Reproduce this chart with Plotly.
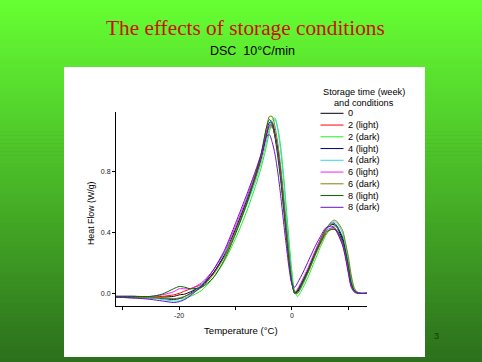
import plotly.graph_objects as go

W, H = 482, 362

# ---------------- data ----------------
temperature = [-31.2, -28, -25, -23, -21, -20, -19, -18, -16, -14, -12, -10, -8, -6.5, -5.5,
               -4.5, -4, -3.5, -3, -2.5, -2, -1.5, -1, -0.5, 0, 0.5, 1, 2, 3, 4, 5, 6, 7, 7.5,
               8, 9, 9.5, 10, 10.5, 11, 11.5, 12, 13.3]

series_names = ["0", "2 (light)", "2 (dark)", "4 (light)", "4 (dark)",
                "6 (light)", "6 (dark)", "8 (light)", "8 (dark)"]
series_colors = ["#000000", "#ff0000", "#22ee22", "#000080", "#33dddd",
                 "#ee22ee", "#808000", "#006600", "#6a10d0"]

hf_0 = [-0.02, -0.02, -0.025, -0.025, -0.02, -0.01, -0.005, 0.01, 0.05, 0.13, 0.25, 0.42, 0.61, 0.77, 0.89,
        1.05, 1.10, 1.10, 1.03, 0.92, 0.77, 0.59, 0.40, 0.22, 0.07, 0.0, 0.02, 0.09, 0.17, 0.26, 0.35, 0.42, 0.45, 0.45,
        0.43, 0.35, 0.27, 0.17, 0.06, 0.02, 0.005, 0.0, 0.0]
hf_2_light = [-0.025, -0.025, -0.025, -0.02, -0.01, 0.0, 0.015, 0.03, 0.06, 0.13, 0.24, 0.40, 0.59, 0.75, 0.87,
              1.03, 1.09, 1.09, 1.03, 0.93, 0.79, 0.61, 0.42, 0.24, 0.08, 0.01, 0.01, 0.07, 0.15, 0.24, 0.32, 0.39, 0.42, 0.42,
              0.40, 0.32, 0.24, 0.14, 0.05, 0.015, 0.005, 0.0, 0.0]
hf_2_dark = [-0.02, -0.02, -0.025, -0.03, -0.035, -0.035, -0.03, -0.02, 0.02, 0.10, 0.21, 0.36, 0.54, 0.70, 0.82,
             0.97, 1.06, 1.12, 1.14, 1.08, 0.96, 0.78, 0.56, 0.34, 0.14, 0.01, -0.02, 0.04, 0.12, 0.21, 0.30, 0.38, 0.43, 0.44,
             0.43, 0.37, 0.30, 0.21, 0.10, 0.03, 0.01, 0.0, 0.0]
hf_4_light = [-0.025, -0.03, -0.03, -0.035, -0.04, -0.035, -0.02, 0.0, 0.05, 0.13, 0.25, 0.42, 0.61, 0.77, 0.89,
              1.05, 1.12, 1.12, 1.05, 0.94, 0.80, 0.62, 0.43, 0.24, 0.08, 0.0, 0.01, 0.08, 0.16, 0.25, 0.34, 0.42, 0.46, 0.46,
              0.44, 0.36, 0.28, 0.18, 0.07, 0.02, 0.005, 0.0, 0.0]
hf_4_dark = [-0.02, -0.025, -0.03, -0.04, -0.05, -0.05, -0.035, -0.01, 0.06, 0.15, 0.26, 0.40, 0.58, 0.73, 0.85,
             1.00, 1.08, 1.14, 1.15, 1.07, 0.93, 0.74, 0.52, 0.30, 0.11, 0.0, 0.0, 0.06, 0.15, 0.24, 0.33, 0.41, 0.46, 0.47,
             0.46, 0.39, 0.31, 0.21, 0.09, 0.03, 0.01, 0.0, 0.0]
hf_6_light = [-0.02, -0.02, -0.02, -0.01, 0.01, 0.03, 0.03, 0.03, 0.07, 0.15, 0.27, 0.44, 0.63, 0.79, 0.90,
              1.06, 1.11, 1.10, 1.03, 0.91, 0.76, 0.57, 0.38, 0.20, 0.06, 0.01, 0.03, 0.10, 0.18, 0.27, 0.35, 0.41, 0.43, 0.43,
              0.41, 0.33, 0.25, 0.15, 0.05, 0.015, 0.005, 0.0, 0.0]
hf_6_dark = [-0.025, -0.025, -0.03, -0.03, -0.035, -0.03, -0.02, -0.005, 0.04, 0.12, 0.24, 0.41, 0.60, 0.77, 0.90,
             1.09, 1.16, 1.16, 1.09, 0.98, 0.83, 0.64, 0.44, 0.25, 0.08, 0.0, 0.0, 0.07, 0.15, 0.24, 0.34, 0.42, 0.47, 0.48,
             0.47, 0.41, 0.33, 0.24, 0.12, 0.04, 0.01, 0.0, 0.0]
hf_8_light = [-0.02, -0.02, -0.02, -0.005, 0.03, 0.045, 0.04, 0.03, 0.04, 0.10, 0.22, 0.39, 0.59, 0.77, 0.91,
              1.09, 1.14, 1.11, 1.02, 0.89, 0.74, 0.56, 0.37, 0.20, 0.06, 0.0, 0.02, 0.08, 0.16, 0.25, 0.33, 0.40, 0.42, 0.42,
              0.41, 0.34, 0.27, 0.18, 0.07, 0.02, 0.005, 0.0, 0.0]
hf_8_dark = [-0.025, -0.03, -0.04, -0.05, -0.06, -0.055, -0.04, -0.015, 0.05, 0.15, 0.28, 0.46, 0.65, 0.80, 0.91,
             1.03, 1.04, 0.99, 0.91, 0.79, 0.64, 0.47, 0.31, 0.16, 0.06, 0.04, 0.07, 0.14, 0.22, 0.30, 0.37, 0.43, 0.44, 0.43,
             0.40, 0.31, 0.23, 0.13, 0.04, 0.01, 0.0, 0.0, 0.0]

series_values = [hf_0, hf_2_light, hf_2_dark, hf_4_light, hf_4_dark,
                 hf_6_light, hf_6_dark, hf_8_light, hf_8_dark]

x_tickvals = [-30, -20, -10, 0, 10]
x_ticktext = ["", "-20", "", "0", ""]
y_tickvals = [0.0, 0.4, 0.8]
y_ticktext = ["0.0", "0.4", "0.8"]

title_text = "The effects of storage conditions"
subtitle_text = "DSC  10°C/min"
legend_title = ["Storage time (week)", "and conditions"]
page_number = "3"

# ---------------- helpers ----------------
def px(x):
    return x / W

def py(y):
    return 1 - y / H

SANS = "Liberation Sans, Arial, sans-serif"

fig = go.Figure()
for name, color, vals in zip(series_names, series_colors, series_values):
    fig.add_trace(go.Scatter(x=temperature, y=vals, mode="lines", name=name,
                             line=dict(color=color, width=1, shape="spline", smoothing=0.7),
                             showlegend=False, hoverinfo="skip"))

shapes = []
# green vertical gradient background
top = (102, 255, 51)
bot = (44, 112, 28)
nb = 91
for i in range(nb):
    t = i / (nb - 1)
    c = tuple(int(round(top[k] + (bot[k] - top[k]) * t)) for k in range(3))
    y0 = i * H / nb
    y1 = (i + 1) * H / nb + 0.6
    shapes.append(dict(type="rect", xref="paper", yref="paper", x0=0, x1=1,
                       y0=py(min(y1, H)), y1=py(y0), fillcolor="rgb(%d,%d,%d)" % c,
                       line=dict(width=0), layer="below"))
# white panel
shapes.append(dict(type="rect", xref="paper", yref="paper", x0=px(64), x1=px(425),
                   y0=py(357), y1=py(67), fillcolor="white", line=dict(width=0), layer="below"))

annotations = [
    dict(text=title_text, x=px(245.5), y=py(28), xref="paper", yref="paper", showarrow=False,
         font=dict(family="Liberation Serif, Times New Roman, serif", size=21.3, color="#cc1100"),
         xanchor="center", yanchor="middle"),
    dict(text=subtitle_text, x=px(252), y=py(50.5), xref="paper", yref="paper", showarrow=False,
         font=dict(family=SANS, size=12.5, color="black"),
         xanchor="center", yanchor="middle"),
    dict(text=page_number, x=px(436), y=py(336), xref="paper", yref="paper", showarrow=False,
         font=dict(family=SANS, size=9, color="#123d0c"),
         xanchor="center", yanchor="middle"),
    dict(text="Heat Flow (W/g)", x=px(91), y=py(213), xref="paper", yref="paper", showarrow=False,
         textangle=-90, font=dict(family=SANS, size=8.8, color="black"),
         xanchor="center", yanchor="middle"),
    dict(text="Temperature (°C)", x=px(241), y=py(330), xref="paper", yref="paper", showarrow=False,
         font=dict(family=SANS, size=9.6, color="black"),
         xanchor="center", yanchor="middle"),
]

# manual legend
for i, line in enumerate(legend_title):
    annotations.append(dict(text=line, x=px(363.5), y=py(92.3 + 11 * i), xref="paper", yref="paper",
                            showarrow=False, xanchor="center", yanchor="middle",
                            font=dict(family=SANS, size=9.2, color="black")))
for i, (name, color) in enumerate(zip(series_names, series_colors)):
    yy = 113.3 + 11.75 * i
    shapes.append(dict(type="line", xref="paper", yref="paper", x0=px(320.5), x1=px(343.5),
                       y0=py(yy), y1=py(yy), line=dict(color=color, width=1)))
    annotations.append(dict(text=name, x=px(345.5), y=py(yy), xref="paper", yref="paper",
                            showarrow=False, xanchor="left", yanchor="middle",
                            font=dict(family=SANS, size=9.2, color="black")))

fig.update_layout(
    width=W, height=H,
    margin=dict(l=0, r=0, t=0, b=0),
    paper_bgcolor="rgb(44,112,28)",
    plot_bgcolor="rgba(0,0,0,0)",
    hovermode=False,
    shapes=shapes,
    annotations=annotations,
    xaxis=dict(domain=[px(116), px(367)], range=[-31.2, 13.3], showgrid=False, zeroline=False,
               showline=True, linecolor="black", linewidth=1, ticks="outside", ticklen=3,
               tickcolor="black", tickvals=x_tickvals, ticktext=x_ticktext,
               tickfont=dict(family=SANS, size=7, color="#222")),
    yaxis=dict(domain=[py(306), py(112)], range=[-0.083, 1.189], showgrid=False, zeroline=False,
               showline=True, linecolor="black", linewidth=1, ticks="outside", ticklen=3,
               tickcolor="black", tickvals=y_tickvals, ticktext=y_ticktext,
               tickfont=dict(family=SANS, size=7, color="#222")),
)

fig.write_html("out.html", config={"displayModeBar": False, "staticPlot": True},
               post_script="document.body.style.margin='0';document.body.style.overflow='hidden';")
